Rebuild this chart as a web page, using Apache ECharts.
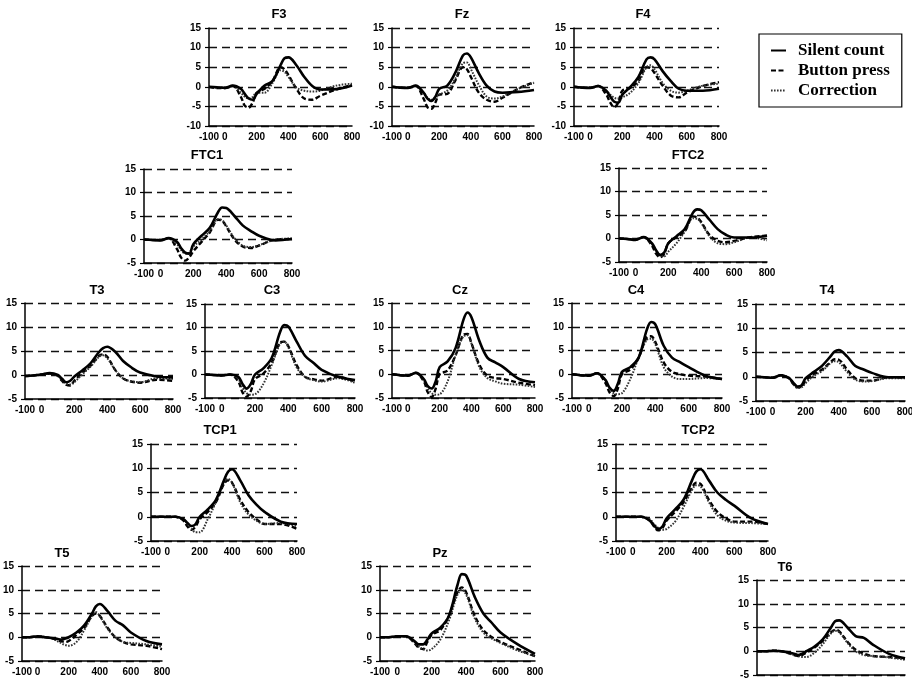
<!DOCTYPE html>
<html><head><meta charset="utf-8">
<script src="https://cdn.jsdelivr.net/npm/echarts@6/dist/echarts.min.js"></script>
<style>html,body{margin:0;padding:0;background:#fff}#c{width:912px;height:680px}</style>
</head><body><div id="c"></div>
<script>
// ---- data ----
const times = [-100,-50,0,50,100,125,150,175,200,250,300,350,375,400,450,500,550,600,700,800];
const xTickLabels = [-100,0,200,400,600,800];
const seriesNames = ['Silent count','Button press','Correction'];
const panelNames = ['F3','Fz','F4','FTC1','FTC2','T3','C3','Cz','C4','T4','TCP1','TCP2','T5','Pz','T6'];
const panelYMin = [-10,-10,-10,-5,-5,-5,-5,-5,-5,-5,-5,-5,-5,-5,-5];
const yMax = 15;

const silent_F3 = [0,-0.1,-0.3,0.3,-0.5,-1.8,-3.0,-3.3,-1.8,0.3,1.5,5.5,7.3,7.5,5.5,2.5,0.2,-0.7,-0.6,0.3];
const button_F3 = [0,-0.3,-0.3,0.2,-2.5,-4.8,-5.3,-4.0,-1.5,-0.5,1.5,5.0,4.5,3.0,-0.5,-3.0,-3.3,-2.3,-0.7,0.5];
const correction_F3 = [0,-0.2,-0.2,0.2,-1.5,-2.5,-3.0,-2.6,-1.5,-1.5,1.0,4.2,3.8,2.5,-0.2,-1.0,-1.2,-1.0,0.3,0.8];

const silent_Fz = [0,-0.2,-0.3,0.3,-1.5,-3.0,-3.6,-2.5,-0.5,0.3,3.5,8.0,8.5,7.5,3.5,0.3,-1.2,-1.5,-1.3,-0.8];
const button_Fz = [0,-0.2,-0.2,0.2,-3.0,-5.2,-5.6,-4.0,-2.0,-1.8,1.5,5.0,4.5,2.5,-1.5,-3.3,-3.8,-2.8,-0.5,1.2];
const correction_Fz = [0,-0.2,-0.2,0.2,-1.5,-2.8,-3.3,-2.8,-2.0,-1.0,2.0,6.0,6.2,4.5,0.5,-2.5,-3.0,-2.5,-0.5,1.0];

const silent_F4 = [0,-0.2,-0.3,0.2,-1.0,-2.5,-3.8,-4.0,-2.0,0,2.5,7.0,7.5,7.0,4.0,1.5,-0.5,-1.0,-1.0,-0.5];
const button_F4 = [0,-0.2,-0.2,0.2,-2.0,-4.0,-5.2,-4.0,-1.0,-0.3,1.5,5.0,4.8,3.5,0.3,-2.2,-2.7,-1.5,0.2,1.2];
const correction_F4 = [0,-0.2,-0.2,0.2,-1.0,-2.0,-2.8,-3.0,-2.7,-1.5,1.0,5.0,5.5,4.5,1.0,-1.0,-1.5,-1.0,0.3,0.8];

const silent_FTC1 = [0,-0.1,-0.2,0.3,-0.5,-1.8,-2.8,-3.0,-1.0,0.8,2.5,5.8,6.8,6.7,5.0,3.0,1.8,0.8,-0.2,0.1];
const button_FTC1 = [0,-0.1,-0.1,0.3,-2.0,-3.8,-4.5,-3.8,-2.5,-0.5,1.5,4.2,4.0,2.8,0,-1.5,-1.8,-1.3,0,0.1];
const correction_FTC1 = [0,-0.1,-0.1,0.3,-1.0,-2.2,-3.0,-2.8,-1.5,0,1.8,4.3,4.1,3.0,0.3,-1.3,-1.6,-1.2,0,0.2];

const silent_FTC2 = [0,-0.1,-0.3,0.3,-1.0,-2.5,-3.5,-3.0,-1.0,0.5,2.0,5.5,6.2,6.0,4.0,2.0,0.8,0.2,0.2,0.6];
const button_FTC2 = [0,-0.1,-0.2,0.3,-1.5,-3.2,-4.0,-3.2,-1.0,0.3,1.5,4.7,4.5,3.5,0.8,-0.5,-0.8,-0.5,0.3,0.6];
const correction_FTC2 = [0,-0.1,-0.2,0.3,-1.2,-2.5,-3.5,-3.8,-2.8,-1.0,1.5,4.3,4.2,3.3,0.5,-1.0,-1.2,-0.8,0.2,-0.4];

const silent_T3 = [-0.2,-0.1,0.1,0.4,0,-0.8,-1.5,-1.2,-0.3,1.0,2.5,4.8,5.6,5.9,4.8,2.8,1.5,0.5,-0.3,-0.5];
const button_T3 = [-0.2,-0.1,0.1,0.3,-0.2,-1.2,-2.0,-2.2,-1.2,0.5,2.0,4.0,4.3,3.8,1.0,-0.8,-1.4,-1.6,-1.0,-1.2];
const correction_T3 = [-0.2,-0.1,0.1,0.3,-0.2,-1.0,-1.8,-2.0,-1.5,0.2,1.8,3.8,4.1,3.5,1.0,-0.8,-1.3,-1.5,-0.7,-0.8];

const silent_C3 = [0,-0.1,-0.2,0,-0.5,-2.0,-3.0,-2.0,0,1.3,3.5,9.0,10.5,10.2,7.0,4.0,2.5,1.0,-0.5,-1.2];
const button_C3 = [0,-0.1,-0.2,0,-1.5,-3.8,-4.7,-3.5,-1.0,0.2,2.5,6.8,7.0,6.0,2.0,-0.5,-1.0,-1.3,-0.5,-1.5];
const correction_C3 = [0,-0.1,-0.2,0,-1.0,-2.8,-4.0,-4.3,-4.2,-2.0,2.0,6.5,7.0,5.8,1.5,-0.5,-1.2,-1.5,-0.8,-1.8];

const silent_Cz = [0,-0.2,-0.3,0.3,-1.0,-2.5,-3.0,-1.5,1.5,2.7,5.5,11.5,13.0,12.0,7.0,3.5,2.5,1.5,-1.0,-1.7];
const button_Cz = [0,-0.2,-0.3,0.3,-1.5,-3.8,-4.8,-3.0,0,0.8,4.0,8.3,8.5,6.5,2.0,-0.3,-0.8,-1.0,-1.8,-2.3];
const correction_Cz = [0,-0.2,-0.3,0.3,-1.2,-3.0,-4.0,-4.3,-4.2,-1.5,4.0,8.0,8.2,6.5,1.5,-0.8,-1.5,-2.0,-2.2,-2.7];

const silent_C4 = [0,-0.2,-0.3,0.2,-1.2,-2.8,-3.5,-2.0,0.5,1.5,3.5,9.5,11.0,10.5,6.0,3.5,2.5,1.5,-0.3,-1.0];
const button_C4 = [0,-0.2,-0.3,0.2,-1.8,-3.8,-4.6,-3.0,0,1.0,3.5,7.8,8.0,6.8,2.5,0.5,0,-0.3,-0.5,-1.0];
const correction_C4 = [0,-0.2,-0.3,0.2,-1.2,-3.0,-4.0,-4.2,-4.0,-1.0,3.5,7.3,7.5,6.3,1.5,-0.5,-1.0,-1.0,-0.8,-1.0];

const silent_T4 = [0,-0.1,-0.2,0.3,-0.3,-1.2,-2.0,-1.8,-0.3,1.0,2.3,4.2,5.2,5.5,4.2,2.2,1.5,0.8,-0.1,-0.1];
const button_T4 = [0,-0.1,-0.2,0.3,-0.3,-1.5,-2.2,-2.0,-0.8,0.5,1.5,3.0,3.6,3.5,1.5,-0.3,-0.8,-0.8,-0.1,-0.2];
const correction_T4 = [0,-0.1,-0.2,0.3,-0.3,-1.5,-2.3,-2.2,-1.3,0.2,1.2,2.8,3.2,3.0,1.0,-0.6,-1.0,-0.9,-0.3,-0.3];

const silent_TCP1 = [0,0,0,0,-0.5,-1.3,-1.9,-1.5,0,1.5,3.5,7.5,9.3,9.8,7.5,4.5,2.5,1.0,-1.0,-1.5];
const button_TCP1 = [0,0,0,0,-0.8,-2.0,-2.7,-2.0,-0.5,1.0,3.0,6.8,7.5,7.0,3.5,1.0,-0.5,-1.5,-1.5,-2.5];
const correction_TCP1 = [0,0,0,0,-0.5,-1.5,-2.5,-3.2,-3.2,-0.5,3.0,7.0,7.8,7.0,3.0,0.5,-0.8,-1.5,-1.3,-2.0];

const silent_TCP2 = [0,0,0,0,-0.8,-1.8,-2.5,-2.0,-0.3,1.5,3.5,7.5,9.3,9.8,7.5,5.0,3.5,2.3,-0.3,-1.5];
const button_TCP2 = [0,0,0,0,-0.8,-2.0,-2.8,-2.3,-0.8,1.0,3.0,6.0,7.0,6.8,3.5,1.0,-0.3,-1.0,-1.0,-1.5];
const correction_TCP2 = [0,0,0,0,-0.5,-1.5,-2.3,-2.7,-2.5,-1.0,2.0,5.5,6.5,6.3,3.0,0.3,-0.8,-1.2,-1.3,-1.5];

const silent_T5 = [0,0,0.2,0,-0.2,-0.3,-0.5,-0.3,0,1.0,2.5,5.0,6.5,7.0,5.5,3.5,2.5,1.0,-0.8,-1.5];
const button_T5 = [0,0,0.2,0,-0.3,-0.6,-0.8,-1.0,-0.8,0.5,2.0,4.5,5.0,4.5,2.0,0,-1.0,-1.5,-1.8,-2.5];
const correction_T5 = [0,0,0.2,0,-0.3,-0.8,-1.2,-1.6,-1.8,-1.0,1.5,4.5,5.3,4.5,1.8,0,-1.0,-1.2,-1.5,-2.0];

const silent_Pz = [0,0,0.2,0.2,-0.8,-1.5,-1.5,-0.5,0.8,2.0,4.5,11.0,13.3,13.0,8.5,5.0,3.0,1.0,-1.5,-3.5];
const button_Pz = [0,0,0.2,0.2,-1.2,-2.2,-2.5,-1.0,0.5,1.5,4.5,9.5,10.5,9.5,4.5,1.5,0,-1.0,-2.5,-4.0];
const correction_Pz = [0,0,0.2,0.2,-1.0,-2.0,-2.5,-2.8,-2.5,-0.5,3.5,9.0,10.0,9.0,4.0,1.0,-0.3,-1.2,-2.8,-4.0];

const silent_T6 = [0,0,0.1,0,-0.3,-0.5,-0.8,-0.5,0,1.0,2.5,5.0,6.3,6.5,5.0,3.2,2.8,1.5,-0.5,-1.5];
const button_T6 = [0,0,0.1,0,-0.5,-0.8,-1.0,-0.8,-0.3,0.8,2.2,4.0,4.5,4.2,2.0,0.3,-0.5,-1.0,-1.2,-1.5];
const correction_T6 = [0,0,0.1,0,-0.5,-0.8,-1.0,-1.2,-1.2,-0.3,1.5,3.8,4.3,4.0,1.8,0,-0.8,-1.0,-1.3,-1.8];

const panelSeries = [
  [silent_F3, button_F3, correction_F3],
  [silent_Fz, button_Fz, correction_Fz],
  [silent_F4, button_F4, correction_F4],
  [silent_FTC1, button_FTC1, correction_FTC1],
  [silent_FTC2, button_FTC2, correction_FTC2],
  [silent_T3, button_T3, correction_T3],
  [silent_C3, button_C3, correction_C3],
  [silent_Cz, button_Cz, correction_Cz],
  [silent_C4, button_C4, correction_C4],
  [silent_T4, button_T4, correction_T4],
  [silent_TCP1, button_TCP1, correction_TCP1],
  [silent_TCP2, button_TCP2, correction_TCP2],
  [silent_T5, button_T5, correction_T5],
  [silent_Pz, button_Pz, correction_Pz],
  [silent_T6, button_T6, correction_T6]
];

// ---- layout (pixels): left, top, width, height, titleX, titleY ----
const layout = [
  [209, 28, 143, 98, 279, 14],
  [392, 28, 142, 98, 462, 14],
  [574, 28, 145, 98, 643, 14],
  [144, 169, 148, 94, 207, 155],
  [619, 168, 148, 94, 688, 155],
  [25, 303, 148, 96, 97, 290],
  [205, 304, 150, 94, 272, 290],
  [392, 303, 143, 95, 460, 290],
  [572, 303, 150, 95, 636, 290],
  [756, 304, 149, 97, 827, 290],
  [151, 444, 146, 97, 220, 430],
  [616, 444, 152, 97, 698, 430],
  [22, 566, 140, 95, 62, 553],
  [380, 566, 155, 95, 440, 553],
  [757, 580, 148, 95, 785, 567]
];

const lineStyles = [
  {color: '#000', width: 2.6, type: 'solid'},
  {color: '#000', width: 2.4, type: [5, 2.5]},
  {color: '#333', width: 2.0, type: [1.6, 1.4]}
];
const fontSans = '"Liberation Sans", Arial, sans-serif';

const grids = [], xAxes = [], yAxes = [], series = [], graphics = [];
panelNames.forEach((name, i) => {
  const L = layout[i];
  grids.push({left: L[0], top: L[1], width: L[2], height: L[3], outerBoundsMode: 'none', containLabel: false});
  xAxes.push({
    type: 'value', gridIndex: i, min: -100, max: 800, interval: 100,
    axisLine: {show: true, onZero: false, lineStyle: {color: '#000', width: 1.5}},
    axisTick: {show: false},
    splitLine: {show: false},
    axisLabel: {
      margin: 6, color: '#000', fontSize: 10, fontWeight: 'bold', fontFamily: fontSans,
      showMinLabel: true, showMaxLabel: true,
      formatter: v => xTickLabels.indexOf(v) >= 0 ? String(v) : ''
    }
  });
  yAxes.push({
    type: 'value', gridIndex: i, min: panelYMin[i], max: yMax, interval: 5,
    axisLine: {show: true, onZero: false, lineStyle: {color: '#000', width: 1.5}},
    axisTick: {show: true, length: 4, lineStyle: {color: '#000', width: 1.2}},
    splitLine: {show: true, lineStyle: {color: '#111', width: 1.3, type: [8, 5]}},
    axisLabel: {margin: 8, color: '#000', fontSize: 10, fontWeight: 'bold', fontFamily: fontSans}
  });
  const order = [1, 2, 0];
  order.forEach(k => {
    const vals = panelSeries[i][k];
    series.push({
      type: 'line', name: seriesNames[k], xAxisIndex: i, yAxisIndex: i,
      data: times.map((t, j) => [t, vals[j]]),
      smooth: 0.35, symbol: 'none', showSymbol: false,
      lineStyle: lineStyles[k], itemStyle: {color: lineStyles[k].color},
      z: 3 + (k === 0 ? 2 : 0), animation: false, silent: true
    });
  });
  graphics.push({
    type: 'text', x: L[4], y: L[5],
    style: {text: name, fill: '#000', font: 'bold 13px ' + fontSans,
            align: 'center', verticalAlign: 'middle', textAlign: 'center', textVerticalAlign: 'middle'}
  });
});

const chart = echarts.init(document.getElementById('c'), null, {renderer: 'canvas'});
chart.setOption({
  backgroundColor: '#fff',
  animation: false,
  grid: grids,
  xAxis: xAxes,
  yAxis: yAxes,
  series: series,
  graphic: graphics,
  legend: {
    data: seriesNames,
    orient: 'vertical', left: 759, top: 34,
    itemWidth: 15, itemHeight: 12, itemGap: 3,
    padding: [8, 12, 8, 11],
    borderColor: '#000', borderWidth: 1.2,
    selectedMode: false,
    itemStyle: {opacity: 0, borderWidth: 0},
    textStyle: {fontFamily: '"Liberation Serif", "Times New Roman", serif', fontSize: 17, fontWeight: 'bold', color: '#000', padding: [0, 0, 0, 7]}
  }
});
</script></body></html>
